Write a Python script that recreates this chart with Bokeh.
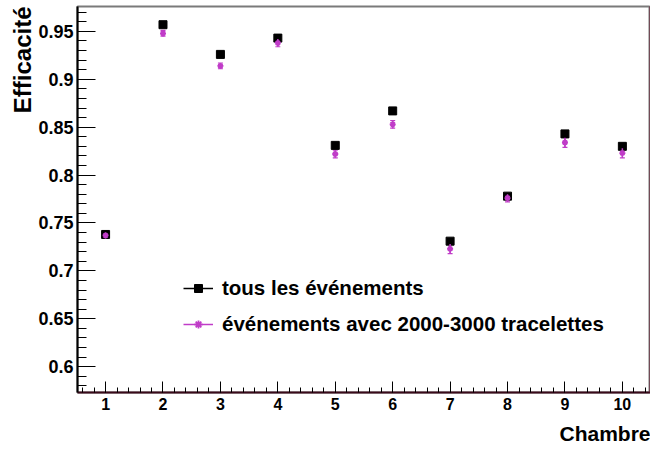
from bokeh.plotting import figure
from bokeh.models import (Range1d, Legend, LegendItem, Whisker, ColumnDataSource,
                          Title, LinearAxis, FixedTicker, TeeHead, CustomJSTickFormatter)
from bokeh.embed import file_html
from bokeh.resources import INLINE
import numpy as np

# ---- data ----
chambres = [1, 2, 3, 4, 5, 6, 7, 8, 9, 10]
eff_tous = [0.738, 0.957, 0.926, 0.943, 0.831, 0.867, 0.731, 0.778, 0.843, 0.830]
err_tous = [0.002, 0.002, 0.002, 0.002, 0.002, 0.002, 0.002, 0.002, 0.002, 0.002]
eff_trac = [0.737, 0.948, 0.914, 0.938, 0.822, 0.853, 0.723, 0.776, 0.834, 0.823]
err_trac = [0.003, 0.003, 0.003, 0.004, 0.004, 0.004, 0.005, 0.004, 0.005, 0.005]
x_ticks = [1, 2, 3, 4, 5, 6, 7, 8, 9, 10]
y_ticks = [0.6, 0.65, 0.7, 0.75, 0.8, 0.85, 0.9, 0.95]
label_tous = "tous les événements"
label_trac = "événements avec 2000-3000 tracelettes"
x_title = "Chambre"
y_title = "Efficacité"

FONT = "Liberation Sans"
MAG = "#c03cc8"

src1 = ColumnDataSource(dict(x=chambres, y=eff_tous,
                             lo=[v - e for v, e in zip(eff_tous, err_tous)],
                             hi=[v + e for v, e in zip(eff_tous, err_tous)]))
src2 = ColumnDataSource(dict(x=chambres, y=eff_trac,
                             lo=[v - e for v, e in zip(eff_trac, err_trac)],
                             hi=[v + e for v, e in zip(eff_trac, err_trac)]))

p = figure(width=650, height=452, output_backend="svg", toolbar_location=None,
           x_range=Range1d(0.511, 10.49), y_range=Range1d(0.573, 0.976),
           min_border_left=77, min_border_right=0, min_border_top=6, min_border_bottom=59)
p.grid.visible = False
p.background_fill_color = "white"
p.border_fill_color = "white"
p.outline_line_color = "#7a7a7a"
p.outline_line_width = 2

# error bars & markers
seg1 = p.segment(x0="x", y0="lo", x1="x", y1="hi", source=src1, line_color="black", line_width=1.5)
sc1 = p.scatter("x", "y", source=src1, marker="square", size=8, fill_color="black", line_color="black")
seg2 = p.segment(x0="x", y0="lo", x1="x", y1="hi", source=src2, line_color=MAG, line_width=1.5)
sc2 = p.scatter("x", "y", source=src2, marker="asterisk", size=6, line_color=MAG, line_width=1.8)
p.add_layout(Whisker(base="x", lower="lo", upper="hi", source=src2, line_color=MAG, line_width=1.2,
                     lower_head=TeeHead(size=5, line_color=MAG, line_width=1.2),
                     upper_head=TeeHead(size=5, line_color=MAG, line_width=1.2)))

# axes
xa = p.xaxis[0]
xa.ticker = FixedTicker(ticks=x_ticks, minor_ticks=list(np.arange(0.6, 10.5, 0.2)))
xa.major_tick_in = 11
xa.major_tick_out = 0
xa.minor_tick_in = 5
xa.minor_tick_out = 0
xa.axis_line_color = "#3a0a1a"
xa.axis_line_width = 2
xa.major_tick_line_color = "black"
xa.minor_tick_line_color = "black"
xa.major_label_text_font = FONT
xa.major_label_text_font_style = "bold"
xa.major_label_text_font_size = "16px"
xa.major_label_text_color = "black"
xa.major_label_standoff = 5

ya = p.yaxis[0]
ya.ticker = FixedTicker(ticks=y_ticks, minor_ticks=list(np.arange(0.58, 0.975, 0.01)))
ya.formatter = CustomJSTickFormatter(code="return String(+tick.toFixed(3));")
ya.major_tick_in = 18
ya.major_tick_out = 0
ya.minor_tick_in = 9
ya.minor_tick_out = 0
ya.axis_line_color = "black"
ya.axis_line_width = 2
ya.major_label_text_font = FONT
ya.major_label_text_font_style = "bold"
ya.major_label_text_font_size = "18px"
ya.major_label_text_color = "black"
ya.major_label_standoff = 4

ra = LinearAxis(major_tick_in=0, major_tick_out=0, minor_tick_in=0, minor_tick_out=0,
                axis_line_color="#6b1a33", axis_line_width=2)
ra.major_label_text_alpha = 0
ra.major_label_text_font_size = "1px"
p.add_layout(ra, "right")

# titles
p.add_layout(Title(text=x_title, align="right", text_font=FONT, text_font_style="bold",
                   text_font_size="21px", text_color="black", standoff=15), "below")
p.add_layout(Title(text=y_title, align="right", text_font=FONT, text_font_style="bold",
                   text_font_size="24px", text_color="black", standoff=0), "left")

legend = Legend(items=[LegendItem(label=label_tous, renderers=[seg1, sc1]),
                       LegendItem(label=label_trac, renderers=[seg2, sc2])],
                location=(106, 56), orientation="vertical",
                label_text_font=FONT, label_text_font_style="bold", label_text_font_size="20.5px",
                label_text_color="black", glyph_width=30, glyph_height=20, label_height=20,
                label_standoff=9, spacing=12, padding=0, margin=0,
                border_line_color=None, background_fill_alpha=0)
p.add_layout(legend, "center")

open("out.html", "w").write(file_html(p, INLINE))
